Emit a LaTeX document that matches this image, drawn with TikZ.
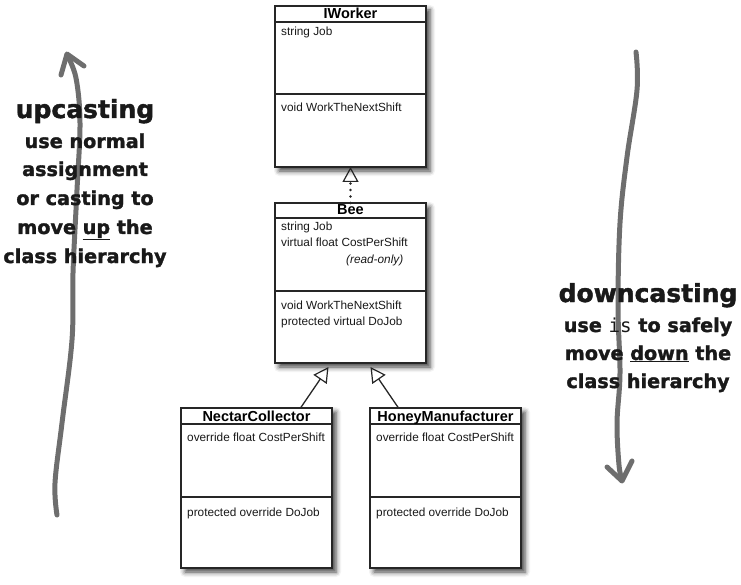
\documentclass[tikz,border=0pt]{standalone}
\usepackage{fontspec}
\setmainfont{Liberation Sans}
\newfontfamily\heavy{DejaVu Sans}[BoldFeatures={FakeBold=1.6}]
\newfontfamily\monofam{DejaVu Sans Mono}
\usetikzlibrary{arrows.meta,shadows.blur}
\definecolor{boxline}{gray}{0.15}
\definecolor{arrowgray}{gray}{0.43}
\definecolor{inktext}{gray}{0.1}
\tikzset{
  umlbox/.style={draw=boxline, line width=1.2pt, fill=white, inner sep=0pt, outer sep=0pt,
    minimum width=151pt, minimum height=160pt, anchor=north west,
    blur shadow={shadow xshift=4pt, shadow yshift=-4pt, shadow blur radius=5pt, shadow opacity=75}},
  sep/.style={draw=boxline, line width=1.1pt},
  classtitle/.style={font=\fontsize{14.5}{16}\selectfont\bfseries, inner sep=0pt, anchor=base},
  member/.style={font=\fontsize{11.8}{14}\selectfont, inner sep=0pt, anchor=base west, text=black!90},
  inherit/.style={draw=boxline, line width=1.3pt, -{Triangle[open, length=15pt, width=16pt, line width=1.2pt]}},
  realize/.style={draw=boxline, line width=2.6pt, line cap=round, dash pattern=on 0pt off 6.5pt,
    -{Triangle[open, length=15pt, width=16pt, line width=1.2pt]}},
  bigarrow/.style={draw=arrowgray, line width=5pt, line cap=round, line join=round},
  annhead/.style={font=\heavy\bfseries\fontsize{25}{28}\selectfont, text=inktext, inner sep=0pt, anchor=base},
  annline/.style={font=\heavy\bfseries\fontsize{19.2}{22}\selectfont, text=inktext, inner sep=0pt, anchor=base},
}
\begin{document}
\begin{tikzpicture}[x=1pt, y=-1pt]
\useasboundingbox (0,0) rectangle (741,585);

% arrows
\draw[bigarrow] plot[smooth, tension=0.6] coordinates {(57,515) (55,483) (62,423) (72,340) (73,273) (77,190) (80,123) (76,78) (67,55)};
\draw[bigarrow] (61,75) -- (67,54) -- (84,66);
\draw[bigarrow] plot[smooth, tension=0.6] coordinates {(636,52) (637,90) (627,157) (620,223) (618,307) (620,373) (617,423) (619,465) (622,480)};
\draw[bigarrow] (607,467) -- (622,481) -- (632,461);

% annotation texts
\node[annhead] (uph) at (85,118) {upcasting};
\node[annline] (up1) at (85,148) {use normal};
\node[annline] (up2) at (85,176) {assignment};
\node[annline] (up3) at (85,205) {or casting to};
\node[annline] (up4) at (85,234) {move \underline{up} the};
\node[annline] (up5) at (85,263) {class hierarchy};

\node[annhead] (downh) at (648,302) {downcasting};
\node[annline] (down1) at (648,332) {use {\monofam\mdseries is} to safely};
\node[annline] (down2) at (648,360) {move \underline{down} the};
\node[annline] (down3) at (648,388) {class hierarchy};

% class boxes
\node[umlbox, minimum height=161pt] (iworker) at (275,6) {};
\draw[sep] ([yshift=-16pt]iworker.north west) -- ([yshift=-16pt]iworker.north east);
\draw[sep] ([yshift=-88pt]iworker.north west) -- ([yshift=-88pt]iworker.north east);
\node[classtitle] (iworker-t) at ([yshift=-13pt]iworker.north) {IWorker};
\node[member] (iworker-a) at ([xshift=6pt, yshift=-30pt]iworker.north west) {string Job};
\node[member] (iworker-m) at ([xshift=6pt, yshift=-106pt]iworker.north west) {void WorkTheNextShift};

\node[umlbox] (bee) at (275,203) {};
\draw[sep] ([yshift=-15pt]bee.north west) -- ([yshift=-15pt]bee.north east);
\draw[sep] ([yshift=-88pt]bee.north west) -- ([yshift=-88pt]bee.north east);
\node[classtitle] (bee-t) at ([yshift=-12pt]bee.north) {Bee};
\node[member] (bee-a1) at ([xshift=6pt, yshift=-28pt]bee.north west) {string Job};
\node[member] (bee-a2) at ([xshift=6pt, yshift=-44pt]bee.north west) {virtual float CostPerShift};
\node[member] (bee-a3) at ([xshift=71pt, yshift=-60pt]bee.north west) {\itshape (read-only)};
\node[member] (bee-m1) at ([xshift=6pt, yshift=-106pt]bee.north west) {void WorkTheNextShift};
\node[member] (bee-m2) at ([xshift=6pt, yshift=-122pt]bee.north west) {protected virtual DoJob};

\node[umlbox] (nectar) at (181,408) {};
\draw[sep] ([yshift=-16pt]nectar.north west) -- ([yshift=-16pt]nectar.north east);
\draw[sep] ([yshift=-89pt]nectar.north west) -- ([yshift=-89pt]nectar.north east);
\node[classtitle] (nectar-t) at ([yshift=-13pt]nectar.north) {NectarCollector};
\node[member] (nectar-a) at ([xshift=6pt, yshift=-33pt]nectar.north west) {override float CostPerShift};
\node[member] (nectar-m) at ([xshift=6pt, yshift=-108pt]nectar.north west) {protected override DoJob};

\node[umlbox] (honey) at (370,408) {};
\draw[sep] ([yshift=-16pt]honey.north west) -- ([yshift=-16pt]honey.north east);
\draw[sep] ([yshift=-89pt]honey.north west) -- ([yshift=-89pt]honey.north east);
\node[classtitle] (honey-t) at ([yshift=-13pt]honey.north) {HoneyManufacturer};
\node[member] (honey-a) at ([xshift=6pt, yshift=-33pt]honey.north west) {override float CostPerShift};
\node[member] (honey-m) at ([xshift=6pt, yshift=-108pt]honey.north west) {protected override DoJob};

% connectors
\draw[realize] (bee.north) -- (iworker.south);
\draw[inherit] ([xshift=44pt]nectar.north) -- ([xshift=-22pt, yshift=-4pt]bee.south);
\draw[inherit] ([xshift=-47pt]honey.north) -- ([xshift=20pt, yshift=-4pt]bee.south);
\end{tikzpicture}
\end{document}
